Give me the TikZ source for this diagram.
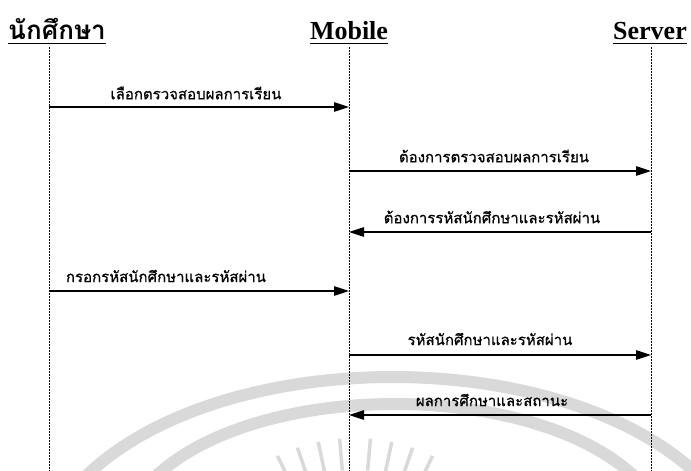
\documentclass[tikz,border=0pt]{standalone}
\usepackage{fontspec}
\setmainfont{Liberation Serif}
\newfontfamily\thaifont[Script=Thai]{Loma}
\newfontfamily\thailbl[Script=Thai,FakeBold=0.6]{Loma}
\usetikzlibrary{arrows.meta,calc}
\begin{document}
\begin{tikzpicture}[x=1pt,y=-1pt,
  head/.style={inner sep=0pt,anchor=base,font=\bfseries\fontsize{26}{29}\selectfont},
  thaihead/.style={inner sep=0pt,anchor=base,font=\thaifont\bfseries\fontsize{26}{29}\selectfont},
  uline/.style={line width=1.4pt},
  lifeline/.style={dash pattern=on 2pt off 1pt,line width=0.8pt},
  msg/.style={line width=1.1pt,-{Triangle[length=15pt,width=9.5pt]}},
  lbl/.style={inner sep=0pt,font=\thailbl\fontsize{15}{17}\selectfont},
  wmark/.style={draw=black!15,line width=12pt},
  wray/.style={draw=black!15,line width=3.5pt}]
\useasboundingbox (0,0) rectangle (691,471);
% watermark
\begin{scope}
\draw[wmark] (80,482) .. controls (215,342) and (570,342) .. (705,482);
\draw[wmark] (150,482) .. controls (250,378) and (540,378) .. (640,482);
\coordinate (wc) at (355,615);
\foreach \a in {244,251,258,265,275,282,289,296}
  \draw[wray] ($(wc)+(\a:145)$) -- ($(wc)+(\a:177)$);
\end{scope}
% headings
\node[thaihead] (h1) at (57,39) {นักศึกษา};
\node[head] (h2) at (349,39) {Mobile};
\node[head] (h3) at (650,39) {Server};
\foreach \h in {h1,h2,h3}
  \draw[uline] ([yshift=-4.5pt]\h.base west) -- ([yshift=-4.5pt]\h.base east);
% lifelines
\coordinate (l1t) at (49,47);  \coordinate (l1b) at (49,471);
\coordinate (l2t) at (349,47); \coordinate (l2b) at (349,471);
\coordinate (l3t) at (651,47); \coordinate (l3b) at (651,471);
\draw[lifeline] (l1t) -- (l1b);
\draw[lifeline] (l2t) -- (l2b);
\draw[lifeline] (l3t) -- (l3b);
% message end points
\coordinate (m1a) at (49,107);  \coordinate (m1b) at (349,107);
\coordinate (m2a) at (349,171); \coordinate (m2b) at (651,171);
\coordinate (m3a) at (651,232); \coordinate (m3b) at (349,232);
\coordinate (m4a) at (49,291);  \coordinate (m4b) at (349,291);
\coordinate (m5a) at (349,355); \coordinate (m5b) at (651,355);
\coordinate (m6a) at (651,415); \coordinate (m6b) at (349,415);
\draw[msg] (m1a) -- (m1b);
\draw[msg] (m2a) -- (m2b);
\draw[msg] (m3a) -- (m3b);
\draw[msg] (m4a) -- (m4b);
\draw[msg] (m5a) -- (m5b);
\draw[msg] (m6a) -- (m6b);
% labels
\node[lbl] (t1) at (196,93)  {เลือกตรวจสอบผลการเรียน};
\node[lbl] (t2) at (494,156) {ต้องการตรวจสอบผลการเรียน};
\node[lbl] (t3) at (492,217) {ต้องการรหัสนักศึกษาและรหัสผ่าน};
\node[lbl] (t4) at (166,276) {กรอกรหัสนักศึกษาและรหัสผ่าน};
\node[lbl] (t5) at (490,339) {รหัสนักศึกษาและรหัสผ่าน};
\node[lbl] (t6) at (492,400) {ผลการศึกษาและสถานะ};
\end{tikzpicture}
\end{document}
